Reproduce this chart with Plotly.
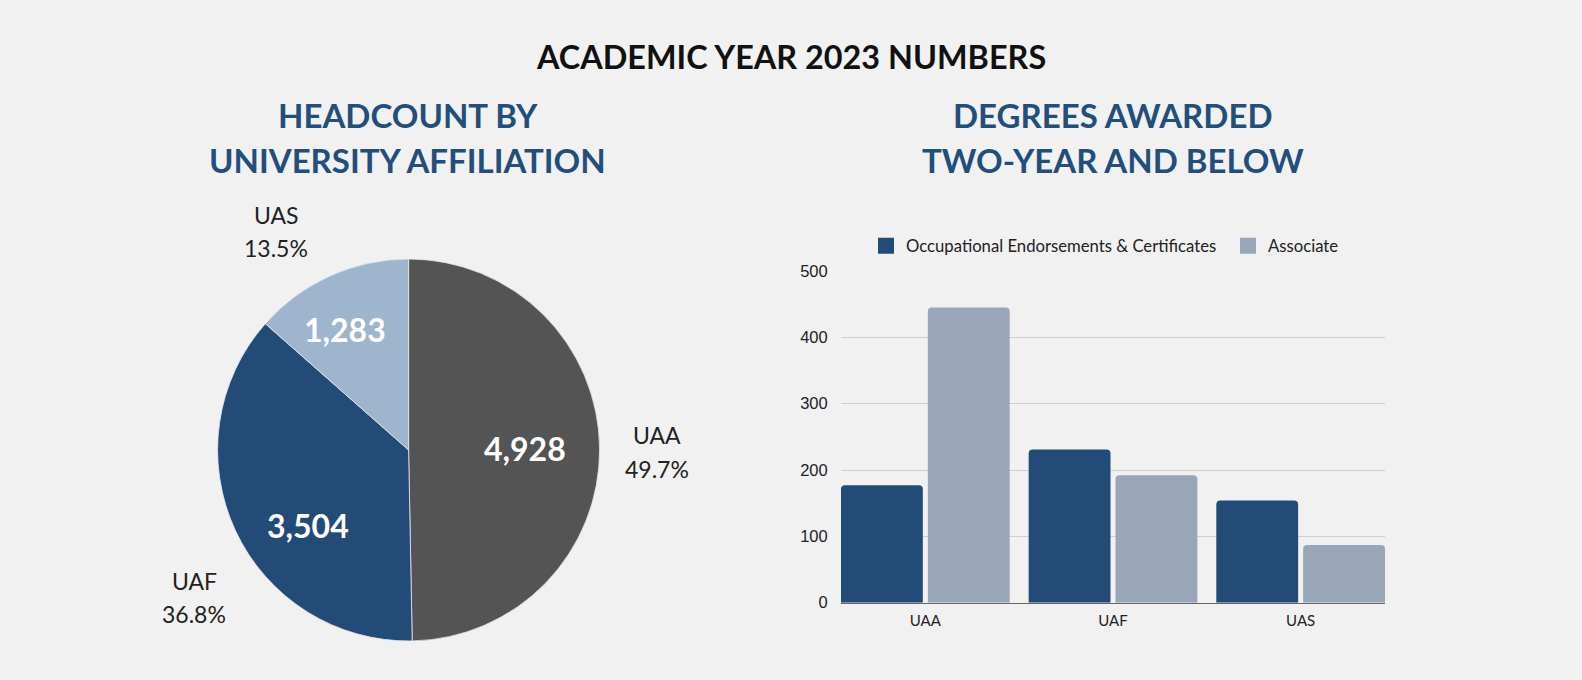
import plotly.graph_objects as go

# ---------------- data ----------------
pie_labels = ["UAA", "UAF", "UAS"]
pie_counts = [4928, 3504, 1283]          # numbers printed inside the slices
pie_percent = [49.7, 36.8, 13.5]         # slice shares as printed outside

bar_categories = ["UAA", "UAF", "UAS"]
oec_values = [177, 231, 154]
associate_values = [445, 192, 87]
series_names = ["Occupational Endorsements & Certificates", "Associate"]

y_ticks = [0, 100, 200, 300, 400, 500]

main_title = "ACADEMIC YEAR 2023 NUMBERS"
left_title = ["HEADCOUNT BY", "UNIVERSITY AFFILIATION"]
right_title = ["DEGREES AWARDED", "TWO-YEAR AND BELOW"]

# ---------------- style / layout ----------------
W, H = 1582, 680
BG = "#f1f1f1"
C_GRAY = "#545454"
C_NAVY = "#224b78"
C_LIGHT = "#9fb4cd"
C_ASSOC = "#99a6b8"
C_TITLE_BLUE = "#224e7c"
FONT = "Lato"


def px(x):
    return x / W


def py(y):
    return 1 - y / H


fig = go.Figure()

# Pie
pie_cx, pie_cy, pie_r = 408.6, 450, 191
fig.add_trace(go.Pie(
    labels=pie_labels,
    values=pie_percent,
    customdata=pie_counts,
    sort=False,
    direction="clockwise",
    rotation=0,
    marker=dict(colors=[C_GRAY, C_NAVY, C_LIGHT], line=dict(color="#e8e8e8", width=0.8)),
    textinfo="none",
    hovertemplate="%{label}: %{customdata:,} (%{value}%)<extra></extra>",
    showlegend=False,
    domain=dict(x=[px(pie_cx - pie_r), px(pie_cx + pie_r)],
                y=[py(pie_cy + pie_r), py(pie_cy - pie_r)]),
))

# Bars
bar_colors = [C_NAVY, C_ASSOC]
for name, vals, col in zip(series_names, [oec_values, associate_values], bar_colors):
    fig.add_trace(go.Bar(
        x=bar_categories, y=vals, name=name,
        marker=dict(color=col, line=dict(width=0)),
        showlegend=False,
        xaxis="x", yaxis="y",
    ))
    fig.add_trace(go.Scatter(
        x=[None], y=[None], mode="markers", name=name,
        marker=dict(symbol="square", size=16, color=col),
        showlegend=True, xaxis="x", yaxis="y",
    ))

bar_x0, bar_x1 = 841, 1385
bar_y_top, bar_y_bottom = 271, 602.7

annotations = []
annotations.append(dict(text=main_title, x=px(790.5), y=py(56.5), xref="paper", yref="paper",
                        showarrow=False, xanchor="center", yanchor="middle",
                        font=dict(family=FONT, size=32.4, color="#111111", weight="bold")))
for i, line in enumerate(left_title):
    annotations.append(dict(text=line, x=px(407.5), y=py(114.5 + 45 * i), xref="paper", yref="paper",
                            showarrow=False, xanchor="center", yanchor="middle",
                            font=dict(family=FONT, size=33, color=C_TITLE_BLUE, weight="bold")))
for i, line in enumerate(right_title):
    annotations.append(dict(text=line, x=px(1112.5), y=py(114.5 + 45 * i), xref="paper", yref="paper",
                            showarrow=False, xanchor="center", yanchor="middle",
                            font=dict(family=FONT, size=33, color=C_TITLE_BLUE, weight="bold")))

outside_pos = [(657, 435, 469), (194, 581, 614), (276, 215, 248)]
inside_pos = [(525, 448), (308, 525), (345, 329)]
for lab, pct, val, (ox, oy1, oy2), (ix, iy) in zip(pie_labels, pie_percent, pie_counts, outside_pos, inside_pos):
    annotations.append(dict(text=lab, x=px(ox), y=py(oy1), xref="paper", yref="paper", showarrow=False,
                            xanchor="center", yanchor="middle",
                            font=dict(family=FONT, size=23, color="#222222")))
    annotations.append(dict(text=f"{pct:.1f}%", x=px(ox), y=py(oy2), xref="paper", yref="paper",
                            showarrow=False, xanchor="center", yanchor="middle",
                            font=dict(family=FONT, size=23, color="#222222")))
    annotations.append(dict(text=f"{val:,}", x=px(ix), y=py(iy), xref="paper", yref="paper", showarrow=False,
                            xanchor="center", yanchor="middle",
                            font=dict(family=FONT, size=32, color="#ffffff", weight="bold")))

fig.update_layout(
    width=W, height=H,
    paper_bgcolor=BG, plot_bgcolor=BG,
    margin=dict(l=0, r=0, t=0, b=0, pad=0, autoexpand=False),
    barmode="group",
    bargap=0.0745,
    bargroupgap=0.0575,
    barcornerradius=4,
    xaxis=dict(domain=[px(bar_x0), px(bar_x1)], type="category", automargin=False,
               range=[-0.4495, 2.4495], showgrid=False, zeroline=False,
               showline=True, linecolor="#666666", linewidth=1,
               ticks="outside", ticklen=4, tickcolor="rgba(0,0,0,0)",
               tickfont=dict(family=FONT, size=15, color="#222222"), fixedrange=True),
    yaxis=dict(domain=[py(bar_y_bottom), py(bar_y_top)], range=[0, 500], automargin=False,
               tickvals=y_ticks, showgrid=True, gridcolor="#cfcfcf", gridwidth=1,
               zeroline=False, ticks="outside", ticklen=9, tickcolor="rgba(0,0,0,0)",
               tickfont=dict(family="Liberation Sans", size=16.5, color="#222222"), fixedrange=True),
    legend=dict(orientation="h", x=px(866), y=py(246), xanchor="left", yanchor="middle",
                font=dict(family=FONT, size=16.7, color="#222222"), itemsizing="trace",
                entrywidth=317, entrywidthmode="pixels",
                bgcolor="rgba(0,0,0,0)", traceorder="normal"),
    annotations=annotations,
    font=dict(family=FONT),
)

fig.write_html(
    "out.html",
    config={"displayModeBar": False},
    post_script=(
        "document.documentElement.style.margin='0';document.documentElement.style.padding='0';"
        "document.documentElement.style.overflow='hidden';"
        "document.body.style.margin='0';document.body.style.padding='0';document.body.style.overflow='hidden';"
        "var gd=document.getElementById('{plot_id}');"
        "gd.style.position='fixed';gd.style.top='0px';gd.style.left='0px';"
    ),
)
